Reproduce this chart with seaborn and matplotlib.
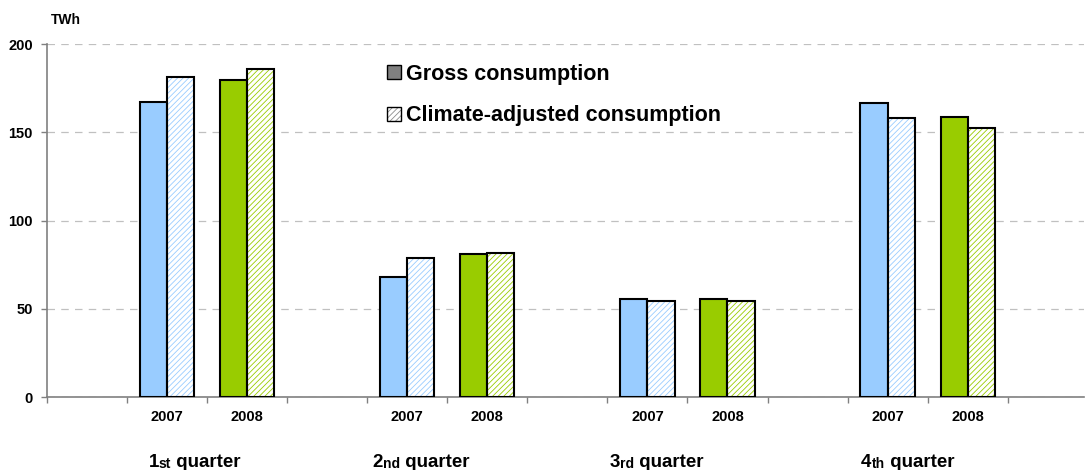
import numpy as np
import pandas as pd
import seaborn as sns
import matplotlib.pyplot as plt
import matplotlib.transforms as mtransforms
from matplotlib.patches import Patch

# ---- data -------------------------------------------------------------
quarter_numbers = ["1", "2", "3", "4"]
quarter_suffixes = ["st", "nd", "rd", "th"]
years = ["2007", "2008"]
series_names = ["Gross consumption", "Climate-adjusted consumption"]

gross_2007 = [167.3, 68.2, 55.6, 166.4]
gross_2008 = [179.6, 80.8, 55.6, 158.8]
adjusted_2007 = [181.5, 78.9, 54.3, 158.3]
adjusted_2008 = [185.8, 81.8, 54.5, 152.2]

y_ticks = [0, 50, 100, 150, 200]
unit_label = "TWh"

# ---- styling ----------------------------------------------------------
year_colors = {"2007": "#99CCFF", "2008": "#99CC00"}
hatch_pattern = "//////"
quarter_label_left = [0.77, 3.57, 6.53, 9.67]

sns.set_theme(style="white")
plt.rcParams["font.family"] = ["Liberation Sans", "DejaVu Sans"]
plt.rcParams["font.weight"] = "bold"
plt.rcParams["text.color"] = "black"
plt.rcParams["xtick.color"] = "black"
plt.rcParams["ytick.color"] = "black"
plt.rcParams["xtick.labelcolor"] = "black"
plt.rcParams["ytick.labelcolor"] = "black"
plt.rcParams["hatch.linewidth"] = 0.6

values = {
    ("2007", series_names[0]): gross_2007,
    ("2008", series_names[0]): gross_2008,
    ("2007", series_names[1]): adjusted_2007,
    ("2008", series_names[1]): adjusted_2008,
}
rows = []
for q in range(len(quarter_numbers)):
    for yi, year in enumerate(years):
        slot = 3 * q + 1 + yi  # one empty slot between quarters
        for s in series_names:
            rows.append({"slot": slot, "year": year, "series": s,
                         "value": values[(year, s)][q]})
df = pd.DataFrame(rows)

fig = plt.figure(figsize=(10.85, 4.7), dpi=100)
ax = fig.add_axes([0.043, 0.1553, 0.956, 0.751])

# filled bars
sns.barplot(data=df, x="slot", y="value", hue="series", hue_order=series_names,
            native_scale=True, width=0.68, gap=0, dodge=True,
            palette=["#999999", "#999999"], errorbar=None, legend=False,
            linewidth=0, ax=ax, zorder=2)

for si, container in enumerate(ax.containers):
    for bar in container:
        xc = bar.get_x() + bar.get_width() / 2
        slot = int(round(xc))
        year = years[(slot - 1) % 3]
        color = year_colors[year]
        if si == 0:
            bar.set_facecolor(color)
            bar.set_edgecolor(color)
            bar.set_linewidth(0)
        else:
            bar.set_facecolor("white")
            bar.set_edgecolor(color)
            bar.set_hatch(hatch_pattern)
            bar.set_linewidth(0)

# black outlines on top
sns.barplot(data=df, x="slot", y="value", hue="series", hue_order=series_names,
            native_scale=True, width=0.68, gap=0, dodge=True, fill=False,
            palette=["black", "black"], errorbar=None, legend=False,
            linewidth=1.5, ax=ax, zorder=3)

# ---- axes -------------------------------------------------------------
ax.set_xlim(-0.5, 12.45)
ax.set_ylim(0, 200)
ax.set_xlabel("")
ax.set_ylabel("")
ax.set_xticks(np.arange(-0.5, 12.5, 1.0))
ax.set_xticklabels([])
ax.set_yticks(y_ticks)
ax.set_yticklabels([str(v) for v in y_ticks], fontsize=10.5, fontweight="bold",
                   color="black")
ax.tick_params(axis="both", which="both", left=True, bottom=True,
               direction="out", length=4, width=1, color="#808080")
ax.tick_params(axis="y", pad=6)

for side in ("top", "right"):
    ax.spines[side].set_visible(False)
for side in ("left", "bottom"):
    ax.spines[side].set_color("#808080")
    ax.spines[side].set_linewidth(1.2)

ax.set_axisbelow(True)
ax.yaxis.grid(True, color="#C0C0C0", linestyle=(0, (6, 5)), linewidth=0.9)
ax.xaxis.grid(False)

blend = mtransforms.blended_transform_factory(ax.transData, ax.transAxes)

# year labels under each pair of bars
for q in range(len(quarter_numbers)):
    for yi, year in enumerate(years):
        slot = 3 * q + 1 + yi
        ax.text(slot, -0.057, year, transform=blend, ha="center", va="center",
                fontsize=10.5, fontweight="bold", color="black")

# quarter labels with small ordinal suffix
for q, (num, suf) in enumerate(zip(quarter_numbers, quarter_suffixes)):
    t1 = ax.text(quarter_label_left[q], -0.199, num, transform=blend,
                 ha="left", va="baseline", fontsize=13.5, fontweight="bold",
                 color="black")
    t2 = ax.annotate(suf, xy=(1, 0), xycoords=t1, ha="left", va="bottom",
                     fontsize=10, fontweight="bold", color="black")
    ax.annotate(" quarter", xy=(1, 0), xycoords=t2, ha="left", va="bottom",
                fontsize=13.5, fontweight="bold", color="black")

# unit label
fig.text(66 / 1085, 1 - 20 / 470, unit_label, ha="center", va="center",
         fontsize=10, fontweight="bold", color="black")

# legend
handles = [
    Patch(facecolor="#808080", edgecolor="black", linewidth=1),
    (Patch(facecolor="white", edgecolor="#8C8C8C", hatch=hatch_pattern, linewidth=0),
     Patch(facecolor="none", edgecolor="black", linewidth=1)),
]
leg = ax.legend(handles, series_names, loc="upper left",
                bbox_to_anchor=(0.328, 0.944),
                frameon=False, prop={"size": 15.5, "weight": "bold"},
                handlelength=0.65, handleheight=0.65, handletextpad=0.25,
                labelspacing=0.95, borderpad=0, borderaxespad=0)
for txt in leg.get_texts():
    txt.set_color("black")

fig.savefig("out.png", dpi=100)
